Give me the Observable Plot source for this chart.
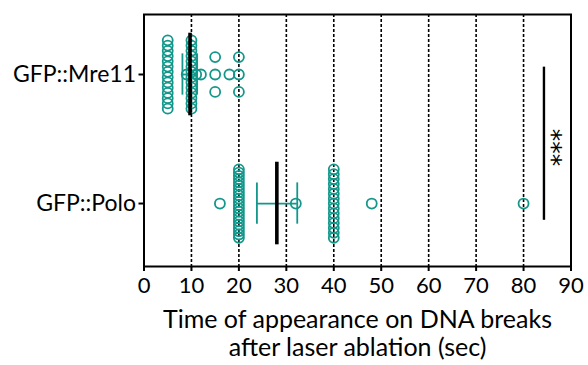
<!DOCTYPE html>
<html><head><meta charset="utf-8">
<script src="https://cdn.jsdelivr.net/npm/d3@7"></script>
<script src="https://cdn.jsdelivr.net/npm/@observablehq/plot@0.6"></script>
<style>body{margin:0;background:#fff}</style>
</head><body><div id="chart"></div>
<script>
// ---- data ----
const groups = ["GFP::Mre11", "GFP::Polo"];
const mre11Values = [5,5,5,5,5,5,5,5,5,5,5,5,5,5, 9, 10,10,10,10,10,10,10,10,10,10,10,10,10,10, 11, 12, 15,15,15, 18, 20,20,20];
const poloValues = [16, 20,20,20,20,20,20,20,20,20,20,20,20,20,20,20,20,20,20,20,20,20,20, 32, 40,40,40,40,40,40,40,40,40,40,40,40,40,40,40, 48, 80];
const means = [9.7, 28.0];
const ciLow = [8.1, 23.8];
const ciHigh = [11.2, 32.3];
const xTicks = [0, 10, 20, 30, 40, 50, 60, 70, 80, 90];
const sigLabel = "***";
const sigX = 84.3;
const xLabel = "Time of appearance on DNA breaks\nafter laser ablation (sec)";

// ---- layout ----
const teal = "#12978a";
const pos = {"GFP::Mre11": 1, "GFP::Polo": 0};
const SPAN = 0.53, GAP = 0.135;
function layout(values, group) {
  const counts = d3.rollup(values, v => v.length, d => d);
  const seen = new Map();
  return values.map(v => {
    const n = counts.get(v);
    const i = seen.get(v) || 0; seen.set(v, i + 1);
    const step = n > 1 ? Math.min(GAP, SPAN / (n - 1)) : 0;
    return {group, x: v, y: pos[group] + (i - (n - 1) / 2) * step};
  });
}
const points = [...layout(mre11Values, groups[0]), ...layout(poloValues, groups[1])];
const summary = groups.map((g, i) => ({group: g, p: pos[g], mean: means[i], lo: ciLow[i], hi: ciHigh[i]}));

const chart = Plot.plot({
  width: 588, height: 365,
  marginLeft: 143.5, marginRight: 17.5, marginTop: 14, marginBottom: 99,
  style: {fontFamily: "Lato", fontSize: "22px", color: "black", background: "white", overflow: "visible"},
  x: {domain: [0, 90]},
  y: {domain: [-0.488, 1.465]},
  marks: [
    Plot.ruleX(xTicks.filter(d => d > 0 && d < 90), {stroke: "black", strokeWidth: 1.6, strokeDasharray: "3,2"}),
    Plot.frame({stroke: "black", strokeWidth: 2}),
    Plot.dot(points, {x: "x", y: "y", r: 5, stroke: teal, strokeWidth: 1.8, fill: "none"}),
    Plot.ruleY(summary, {x1: "lo", x2: "hi", y: "p", stroke: teal, strokeWidth: 1.8}),
    Plot.ruleX(summary, {x: "lo", y1: d => d.p - 0.16, y2: d => d.p + 0.16, stroke: teal, strokeWidth: 1.8}),
    Plot.ruleX(summary, {x: "hi", y1: d => d.p - 0.16, y2: d => d.p + 0.16, stroke: teal, strokeWidth: 1.8}),
    Plot.ruleX(summary, {x: "mean", y1: d => d.p - 0.32, y2: d => d.p + 0.32, stroke: "black", strokeWidth: 3.6}),
    Plot.ruleX([sigX], {y1: pos[groups[1]] - 0.13, y2: pos[groups[0]] + 0.057, stroke: "black", strokeWidth: 2.4}),
    Plot.text([sigLabel], {x: sigX, y: 0.434, dx: 8, rotate: 90, fontSize: 25, fontFamily: "DejaVu Sans", text: d => d}),
    Plot.axisX({ticks: xTicks, tickSize: 5, tickPadding: 6, fontSize: 22, label: null, strokeWidth: 2}),
    Plot.axisY({ticks: [0, 1], tickFormat: d => groups.find(g => pos[g] === d), tickSize: 5, tickPadding: 3, fontSize: 23, label: null, strokeWidth: 2}),
    Plot.text([xLabel], {frameAnchor: "bottom", lineAnchor: "top", dy: 42, fontSize: 25, lineHeight: 1.12, text: d => d})
  ]
});
document.getElementById("chart").appendChild(chart);
</script>
</body></html>
